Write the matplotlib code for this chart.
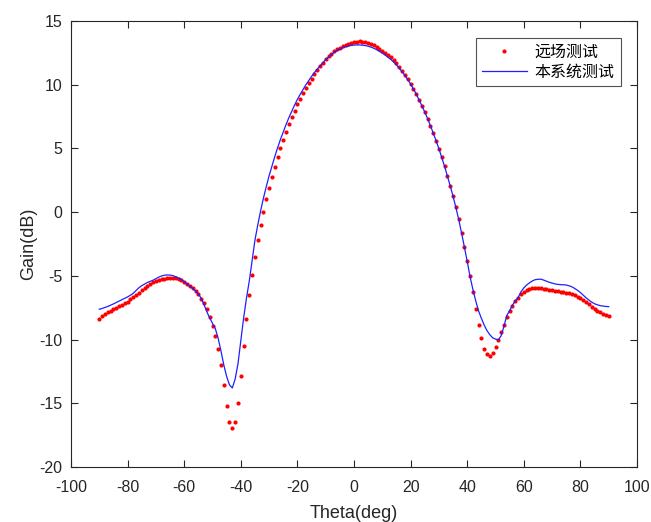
import numpy as np
import matplotlib
matplotlib.use("Agg")
import matplotlib.pyplot as plt

plt.rcParams['font.family'] = ['Liberation Sans', 'Noto Sans CJK SC', 'DejaVu Sans']
plt.rcParams['axes.unicode_minus'] = False

# angle grid (deg), one sample per degree
theta = list(range(-90, 91))

# far-field measurement (red dots), dB
far_field = [
    -8.35, -8.15, -7.98, -7.85, -7.75, -7.64, -7.52, -7.40, -7.28, -7.15,   # -90..-81
    -7.02, -6.85, -6.68, -6.50, -6.32, -6.13, -5.95, -5.78, -5.63, -5.50,   # -80..-71
    -5.40, -5.32, -5.26, -5.22, -5.19, -5.18, -5.18, -5.20, -5.25, -5.33,   # -70..-61
    -5.45, -5.60, -5.80, -5.98, -6.15, -6.45, -6.79, -7.16, -7.63, -8.23,   # -60..-51
    -8.91, -9.74, -10.76, -12.02, -13.59, -15.24, -16.50, -16.91, -16.44, -15.00,  # -50..-41
    -12.83, -10.50, -8.36, -6.50, -4.90, -3.50, -2.21, -1.03, 0.01, 1.00,   # -40..-31
    1.92, 2.78, 3.57, 4.30, 5.00, 5.66, 6.29, 6.89, 7.44, 7.96,             # -30..-21
    8.46, 8.90, 9.35, 9.74, 10.11, 10.47, 10.84, 11.15, 11.47, 11.73,       # -20..-11
    11.99, 12.23, 12.43, 12.62, 12.78, 12.90, 13.04, 13.14, 13.22, 13.30,   # -10..-1
    13.35,                                                                  # 0
    13.38, 13.40, 13.39, 13.36, 13.30, 13.21, 13.10, 12.99, 12.84, 12.68,   # 1..10
    12.52, 12.33, 12.15, 11.94, 11.68, 11.38, 11.08, 10.76, 10.42, 10.06,   # 11..20
    9.69, 9.27, 8.80, 8.33, 7.86, 7.34, 6.79, 6.19, 5.61, 4.98,             # 21..30
    4.30, 3.62, 2.84, 2.08, 1.27, 0.38, -0.56, -1.61, -2.71, -3.81,         # 31..40
    -5.01, -6.29, -7.58, -8.83, -9.90, -10.71, -11.16, -11.29, -11.08, -10.61,  # 41..50
    -10.04, -9.41, -8.83, -8.25, -7.78, -7.37, -7.00, -6.71, -6.45, -6.24,  # 51..60
    -6.11, -6.03, -5.98, -5.95, -5.95, -5.98, -6.00, -6.06, -6.11, -6.14,   # 61..70
    -6.16, -6.21, -6.24, -6.27, -6.32, -6.37, -6.42, -6.53, -6.63, -6.76,   # 71..80
    -6.92, -7.08, -7.23, -7.42, -7.58, -7.73, -7.86, -7.97, -8.07, -8.18,   # 81..90
]

# this system's measurement (blue line), dB
this_system = [
    -7.62, -7.56, -7.48, -7.40, -7.30, -7.20, -7.09, -6.98, -6.87, -6.76,   # -90..-81
    -6.65, -6.52, -6.37, -6.15, -5.93, -5.77, -5.64, -5.52, -5.43, -5.34,   # -80..-71
    -5.22, -5.10, -5.01, -4.95, -4.93, -4.94, -4.98, -5.07, -5.17, -5.30,   # -70..-61
    -5.45, -5.62, -5.80, -5.99, -6.18, -6.43, -6.75, -7.25, -7.81, -8.30,   # -60..-51
    -8.72, -9.15, -9.90, -10.90, -12.00, -12.90, -13.55, -13.80, -13.10, -11.90,  # -50..-41
    -10.10, -8.30, -6.75, -5.40, -3.80, -2.20, -1.00, 0.10, 1.10, 2.00,     # -40..-31
    2.85, 3.60, 4.35, 5.05, 5.70, 6.30, 6.88, 7.42, 7.92, 8.40,             # -30..-21
    8.85, 9.25, 9.63, 10.00, 10.33, 10.65, 10.95, 11.22, 11.48, 11.73,      # -20..-11
    11.97, 12.18, 12.37, 12.53, 12.67, 12.79, 12.90, 12.98, 13.04, 13.08,   # -10..-1
    13.11,                                                                  # 0
    13.12, 13.12, 13.10, 13.07, 13.02, 12.95, 12.86, 12.75, 12.62, 12.48,   # 1..10
    12.33, 12.16, 11.98, 11.78, 11.55, 11.30, 11.03, 10.73, 10.40, 10.05,   # 11..20
    9.67, 9.26, 8.81, 8.34, 7.86, 7.34, 6.79, 6.20, 5.61, 4.98,             # 21..30
    4.30, 3.60, 2.84, 2.06, 1.25, 0.36, -0.58, -1.62, -2.75, -3.85,         # 31..40
    -5.06, -6.05, -6.95, -7.74, -8.33, -8.86, -9.30, -9.62, -9.86, -9.96,   # 41..50
    -10.03, -9.70, -8.95, -8.10, -7.73, -7.30, -6.95, -6.70, -6.25, -5.95,  # 51..60
    -5.72, -5.55, -5.40, -5.30, -5.27, -5.26, -5.33, -5.42, -5.50, -5.57,   # 61..70
    -5.63, -5.67, -5.69, -5.70, -5.72, -5.78, -5.86, -5.99, -6.14, -6.31,   # 71..80
    -6.52, -6.72, -6.90, -7.06, -7.19, -7.27, -7.34, -7.37, -7.40, -7.42,   # 81..90
]

x_ticks = list(range(-100, 101, 20))
y_ticks = list(range(-20, 16, 5))

fig = plt.figure(figsize=(6.51, 5.22), dpi=100)
ax = fig.add_axes([71 / 651, 1 - 467 / 522, (637 - 71) / 651, (467 - 21) / 522])

ax.plot(theta, far_field, 'o', color='red', markersize=3.0, markeredgewidth=0,
        label='远场测试')
ax.plot(theta, this_system, '-', color='#1f1fff', linewidth=0.9,
        label='本系统测试')

ax.set_xlim(-100, 100)
ax.set_ylim(-20, 15)
ax.set_xticks(x_ticks)
ax.set_yticks(y_ticks)

# MATLAB-like box with inward ticks on all four sides
for s in ax.spines.values():
    s.set_color('#262626')
    s.set_linewidth(0.8)
ax.tick_params(direction='in', top=True, right=True, length=5, width=0.8,
               labelsize=11.5, colors='#262626')
ax.tick_params(axis='x', pad=9)
ax.tick_params(axis='y', pad=6)
ax.set_xlabel('Theta(deg)', fontsize=13, color='#262626', labelpad=7.5)
ax.set_ylabel('Gain(dB)', fontsize=13, color='#262626', labelpad=2)

leg = ax.legend(loc='upper right', bbox_to_anchor=(0.972, 0.962), fontsize=11.5,
                frameon=True, fancybox=False, handlelength=2.8, borderpad=0.4,
                labelspacing=0.35, handletextpad=0.5, borderaxespad=0)
leg.get_frame().set_edgecolor('#262626')
leg.get_frame().set_linewidth(0.8)

fig.savefig('out.png', dpi=100)
